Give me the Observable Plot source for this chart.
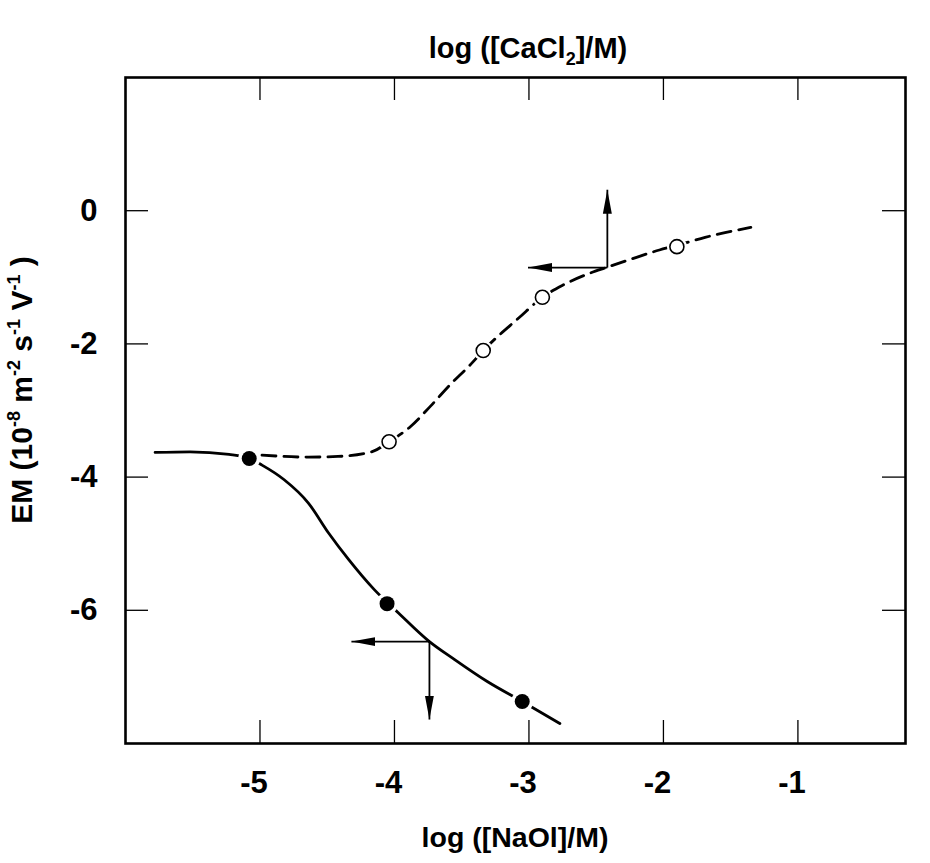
<!DOCTYPE html>
<html><head><meta charset="utf-8">
<script src="https://cdn.jsdelivr.net/npm/d3@7"></script>
<script src="https://cdn.jsdelivr.net/npm/@observablehq/plot@0.6"></script>
<style>
html,body{margin:0;padding:0;background:#fff;}
#chart svg{display:block;}
</style></head><body><div id="chart"></div>
<script>
// ---- data ----
const naolX = [-5.08, -4.055, -3.05];
const naolEM = [-3.72, -5.90, -7.37];
const cacl2X = [-4.04, -3.34, -2.90, -1.90];
const cacl2EM = [-3.47, -2.10, -1.30, -0.54];

const naolCurveX  = [-5.78, -5.52, -5.23, -5.08, -4.985, -4.82, -4.64, -4.49, -4.34, -4.15, -3.97, -3.74, -3.56, -3.31, -3.05, -2.77];
const naolCurveEM = [-3.63, -3.62, -3.66, -3.72, -3.82, -4.04, -4.39, -4.84, -5.24, -5.69, -6.04, -6.47, -6.73, -7.07, -7.37, -7.70];

const cacl2CurveX  = [-4.985, -4.64, -4.42, -4.17, -4.04, -3.88, -3.73, -3.58, -3.43, -3.34, -3.07, -2.90, -2.75, -2.55, -2.42, -2.20, -2.03, -1.90, -1.69, -1.35];
const cacl2CurveEM = [-3.67, -3.70, -3.69, -3.62, -3.47, -3.24, -2.93, -2.60, -2.30, -2.10, -1.60, -1.30, -1.12, -0.94, -0.85, -0.70, -0.59, -0.52, -0.40, -0.25];

const arrowX1 = [-2.417, -2.417, -3.74, -3.74];
const arrowY1 = [-0.854, -0.854, -6.47, -6.47];
const arrowX2 = [-2.417, -3.007, -4.32, -3.74];
const arrowY2 = [0.315, -0.854, -6.47, -7.64];

const xTicks = [-5, -4, -3, -2, -1];
const xTickLabels = ["-5", "-4", "-3", "-2", "-1"];
const yTicks = [0, -2, -4, -6];
const yTickLabels = ["0", "-2", "-4", "-6"];

// ---- build ----
const W = 930, H = 863;
const mL = 125, mR = 25, mT = 77, mB = 120;
const plotW = W - mL - mR, plotH = H - mT - mB;
const tickLen = 23;

const idx = a => a.map((_, i) => i);
const naolCurve = idx(naolCurveX).map(i => ({x: naolCurveX[i], y: naolCurveEM[i]}));
const cacl2Curve = idx(cacl2CurveX).map(i => ({x: cacl2CurveX[i], y: cacl2CurveEM[i]}));
const naolPts = idx(naolX).map(i => ({x: naolX[i], y: naolEM[i]}));
const cacl2Pts = idx(cacl2X).map(i => ({x: cacl2X[i], y: cacl2EM[i]}));
const arrows = idx(arrowX1).map(i => ({x1: arrowX1[i], y1: arrowY1[i], x2: arrowX2[i], y2: arrowY2[i]}));

const SVGNS = "http://www.w3.org/2000/svg";
function headMarker(color) {
  const m = document.createElementNS(SVGNS, "marker");
  m.setAttribute("viewBox", "0 -5 24 10");
  m.setAttribute("refX", "24");
  m.setAttribute("refY", "0");
  m.setAttribute("markerWidth", "24");
  m.setAttribute("markerHeight", "10");
  m.setAttribute("markerUnits", "userSpaceOnUse");
  m.setAttribute("orient", "auto");
  const p = document.createElementNS(SVGNS, "path");
  p.setAttribute("d", "M0,-4.5L24,0L0,4.5Z");
  p.setAttribute("fill", color);
  p.setAttribute("stroke", "none");
  m.appendChild(p);
  return m;
}

const font = "'Liberation Sans', Arial, Helvetica, sans-serif";

const svg = Plot.plot({
  width: W, height: H,
  marginLeft: mL, marginRight: mR, marginTop: mT, marginBottom: mB,
  style: {fontFamily: font, background: "white", color: "black", overflow: "visible"},
  x: {domain: [-6, -0.2]},
  y: {domain: [-8, 2]},
  marks: [
    Plot.line(naolCurve, {x: "x", y: "y", curve: "monotone-x", stroke: "black", strokeWidth: 2.8}),
    Plot.line(cacl2Curve, {x: "x", y: "y", curve: "monotone-x", stroke: "black", strokeWidth: 2.8, strokeDasharray: "14,8"}),
    Plot.link(arrows, {x1: "x1", y1: "y1", x2: "x2", y2: "y2", stroke: "black", strokeWidth: 1.8, markerEnd: headMarker}),
    Plot.dot(naolPts, {x: "x", y: "y", r: 11, fill: "white"}),
    Plot.dot(cacl2Pts, {x: "x", y: "y", r: 10, fill: "white"}),
    Plot.dot(naolPts, {x: "x", y: "y", r: 7.5, fill: "black"}),
    Plot.dot(cacl2Pts, {x: "x", y: "y", r: 7, fill: "white", stroke: "black", strokeWidth: 1.6}),
    Plot.tickX(xTicks, {x: d => d, insetTop: plotH - tickLen, stroke: "black", strokeWidth: 1.3}),
    Plot.tickX(xTicks, {x: d => d, insetBottom: plotH - tickLen, stroke: "black", strokeWidth: 1.3}),
    Plot.tickY(yTicks, {y: d => d, insetRight: plotW - tickLen, stroke: "black", strokeWidth: 1.3}),
    Plot.tickY(yTicks, {y: d => d, insetLeft: plotW - tickLen, stroke: "black", strokeWidth: 1.3}),
    Plot.frame({stroke: "black", strokeWidth: 2.6}),
    Plot.axisX(xTicks, {anchor: "bottom", tickSize: 0, tickPadding: 27, label: null, dx: -6,
      tickFormat: d => xTickLabels[xTicks.indexOf(d)], fontSize: 31, fontWeight: "bold"}),
    Plot.axisY(yTicks, {anchor: "left", tickSize: 0, tickPadding: 28, label: null,
      tickFormat: d => yTickLabels[yTicks.indexOf(d)], fontSize: 31, fontWeight: "bold"})
  ]
});

const s = d3.select(svg);
// top title
const t1 = s.append("text").attr("x", 528).attr("y", 58).attr("text-anchor", "middle")
  .attr("font-family", font).attr("font-size", 29).attr("font-weight", "bold").attr("fill", "black");
t1.append("tspan").text("log ([CaCl");
t1.append("tspan").attr("font-size", 18).attr("dy", 7).text("2");
t1.append("tspan").attr("dy", -7).text("]/M)");

// bottom label
s.append("text").attr("x", 515).attr("y", 847).attr("text-anchor", "middle")
  .attr("font-family", font).attr("font-size", 28.5).attr("font-weight", "bold").attr("fill", "black")
  .text("log ([NaOl]/M)");

// y label
const t3 = s.append("text").attr("transform", "translate(32,390) rotate(-90)").attr("text-anchor", "middle")
  .attr("font-family", font).attr("font-size", 30).attr("font-weight", "bold").attr("fill", "black");
const sup = (txt) => { t3.append("tspan").attr("font-size", 18).attr("dy", -12).text(txt); };
const base = (txt) => { t3.append("tspan").attr("dy", 12).text(txt); };
t3.append("tspan").text("EM (10");
sup("-8"); base(" m"); sup("-2"); base(" s"); sup("-1"); base(" V"); sup("-1"); base(" )");

document.getElementById("chart").appendChild(svg);
</script></body></html>
